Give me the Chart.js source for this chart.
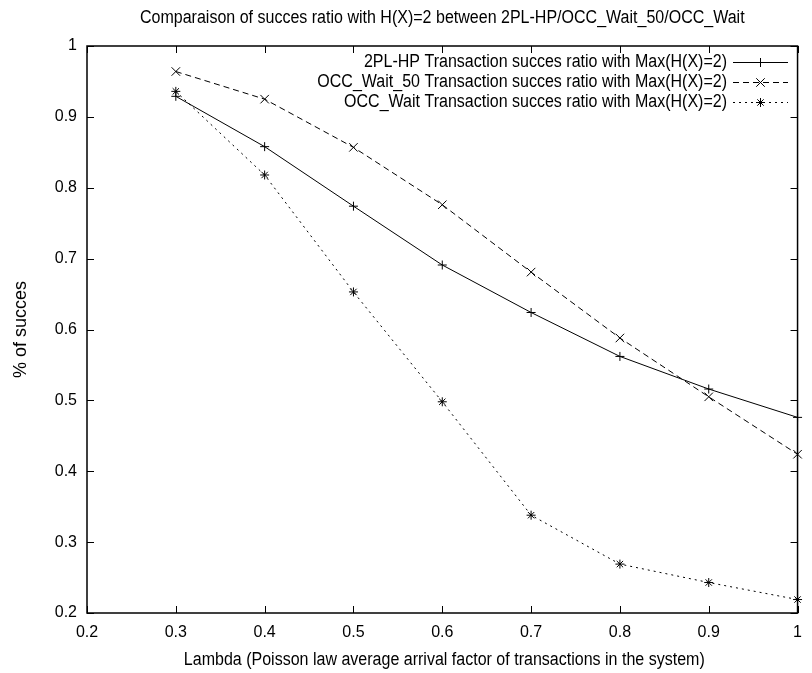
<!DOCTYPE html>
<html lang="en">
<head>
    <meta charset="UTF-8">
    <title>Succes ratio H(X)=2</title>
    <script src="https://cdn.jsdelivr.net/npm/chart.js"></script>
    <style>
        body { margin: 0; background: #fff; }
        #wrap { width: 812px; height: 673px; }
    </style>
</head>
<body>
    <div id="wrap"><canvas id="chart" width="812" height="673"></canvas></div>

    <script>
        // values
        const lambdas   = [0.3, 0.4, 0.5, 0.6, 0.7, 0.8, 0.9, 1.0];
        const twoPlHp   = [0.929, 0.858, 0.774, 0.691, 0.624, 0.562, 0.516, 0.476];
        const occWait50 = [0.964, 0.925, 0.857, 0.776, 0.681, 0.588, 0.505, 0.424];
        const occWait   = [0.936, 0.818, 0.653, 0.498, 0.338, 0.269, 0.243, 0.219];
        const xTicks = [0.2, 0.3, 0.4, 0.5, 0.6, 0.7, 0.8, 0.9, 1];
        const yTicks = [0.2, 0.3, 0.4, 0.5, 0.6, 0.7, 0.8, 0.9, 1];

        const FONT = "'Liberation Sans', Arial, sans-serif";
        const pts = ys => lambdas.map((x, i) => ({ x: x, y: ys[i] }));

        function series(label, ys, dash, style, radius) {
            return {
                label: label,
                data: pts(ys),
                borderColor: '#000',
                backgroundColor: '#000',
                borderWidth: 1,
                borderDash: dash,
                pointStyle: style,
                pointRadius: radius,
                pointHoverRadius: radius,
                pointBorderWidth: 1,
                pointBorderColor: '#000',
                tension: 0,
                fill: false,
                clip: false
            };
        }

        // gnuplot text is a bit tall and narrow: bigger font squeezed sideways
        function squeezed(ctx, text, x, y) {
            ctx.save();
            ctx.translate(x, y);
            ctx.scale(0.89, 1);
            ctx.fillText(text, 0, 0);
            ctx.restore();
        }

        // gnuplot style frame, inward ticks, titles and key
        const frame = {
            id: 'frame',
            afterDraw(chart) {
                const ctx = chart.ctx;
                const a = chart.chartArea;
                const xs = chart.scales.x, ys = chart.scales.y;
                ctx.save();
                ctx.strokeStyle = '#000';
                ctx.lineWidth = 1.5;
                ctx.strokeRect(a.left, a.top, a.right - a.left, a.bottom - a.top);

                ctx.lineWidth = 1;
                ctx.beginPath();
                xTicks.forEach(v => {
                    const px = Math.round(xs.getPixelForValue(v)) + 0.5;
                    ctx.moveTo(px, a.bottom); ctx.lineTo(px, a.bottom - 7);
                    ctx.moveTo(px, a.top); ctx.lineTo(px, a.top + 7);
                });
                yTicks.forEach(v => {
                    const py = Math.round(ys.getPixelForValue(v)) + 0.5;
                    ctx.moveTo(a.left, py); ctx.lineTo(a.left + 7, py);
                    ctx.moveTo(a.right, py); ctx.lineTo(a.right - 7, py);
                });
                ctx.stroke();

                ctx.fillStyle = '#000';
                ctx.font = '18px ' + FONT;
                ctx.textAlign = 'center';
                ctx.textBaseline = 'middle';
                const cx = (a.left + a.right) / 2;
                squeezed(ctx, 'Comparaison of succes ratio with H(X)=2 between 2PL-HP/OCC_Wait_50/OCC_Wait', cx, 18);
                squeezed(ctx, 'Lambda (Poisson law average arrival factor of transactions in the system)', cx + 2, 660);

                ctx.save();
                ctx.translate(21, (a.top + a.bottom) / 2);
                ctx.rotate(-Math.PI / 2);
                ctx.fillText('% of succes', 0, 0);
                ctx.restore();

                // key
                ctx.textAlign = 'right';
                chart.data.datasets.forEach((ds, i) => {
                    const y = 62 + 20 * i;
                    squeezed(ctx, ds.label, 727, y);
                    ctx.save();
                    ctx.setLineDash(ds.borderDash);
                    ctx.beginPath();
                    ctx.moveTo(733, y + 0.5);
                    ctx.lineTo(788, y + 0.5);
                    ctx.stroke();
                    ctx.restore();
                    Chart.helpers.drawPoint(ctx, {
                        pointStyle: ds.pointStyle,
                        radius: ds.pointRadius,
                        rotation: 0,
                        borderWidth: 1
                    }, 760.5, y + 0.5);
                });
                ctx.restore();
            }
        };

        new Chart(document.getElementById('chart'), {
            type: 'line',
            data: {
                datasets: [
                    series('2PL-HP Transaction succes ratio with Max(H(X)=2)', twoPlHp, [], 'cross', 4.5),
                    series('OCC_Wait_50 Transaction succes ratio with Max(H(X)=2)', occWait50, [6, 4], 'crossRot', 6),
                    series('OCC_Wait Transaction succes ratio with Max(H(X)=2)', occWait, [2, 4], 'star', 4.5)
                ]
            },
            options: {
                responsive: false,
                animation: false,
                devicePixelRatio: 1,
                layout: { padding: { left: 0, right: 4, top: 46, bottom: 0 } },
                plugins: {
                    legend: { display: false },
                    title: { display: false },
                    tooltip: { enabled: false }
                },
                scales: {
                    x: {
                        type: 'linear',
                        min: 0.2,
                        max: 1,
                        afterBuildTicks: s => { s.ticks = xTicks.map(v => ({ value: v })); },
                        afterFit: s => { s.height = 60; },
                        grid: { display: false, drawTicks: false },
                        border: { display: false },
                        ticks: {
                            padding: 10,
                            color: '#000',
                            font: { family: FONT, size: 16 },
                            maxRotation: 0,
                            callback: v => String(Math.round(v * 10) / 10)
                        }
                    },
                    y: {
                        min: 0.2,
                        max: 1,
                        afterBuildTicks: s => { s.ticks = yTicks.map(v => ({ value: v })); },
                        afterFit: s => { s.width = 87; },
                        grid: { display: false, drawTicks: false },
                        border: { display: false },
                        ticks: {
                            padding: 10,
                            color: '#000',
                            font: { family: FONT, size: 16 },
                            callback: v => String(Math.round(v * 10) / 10)
                        }
                    }
                }
            },
            plugins: [frame]
        });
    </script>
</body>
</html>
